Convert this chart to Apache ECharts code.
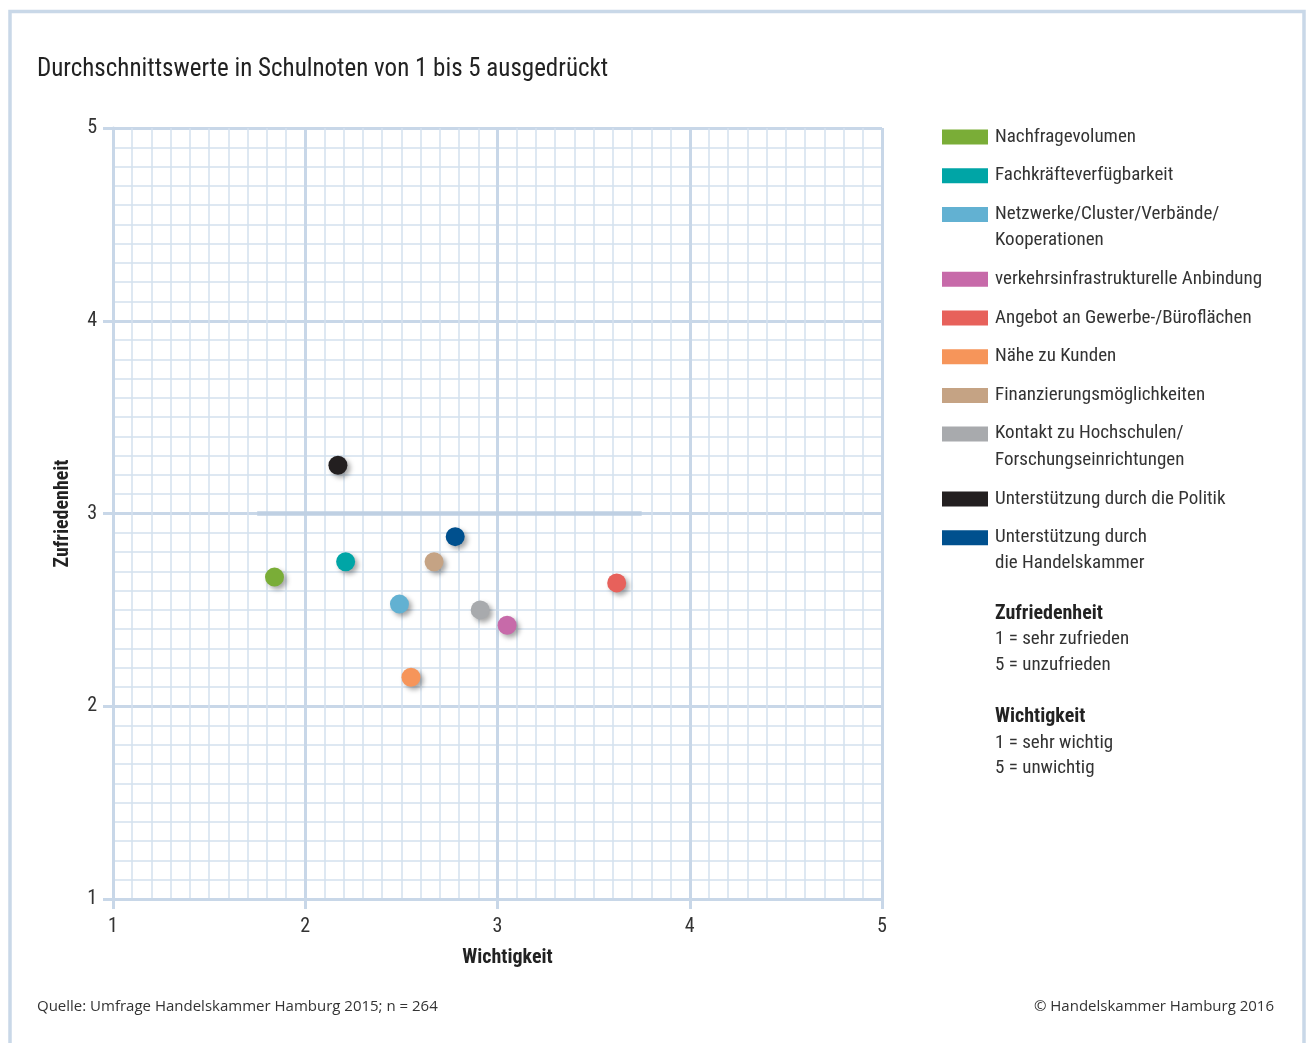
<!DOCTYPE html>
<html>
<head>
<meta charset="utf-8">
<script src="https://cdn.jsdelivr.net/npm/echarts@6/dist/echarts.min.js"></script>
<style>
html, body { margin: 0; padding: 0; background: #fff; }
#chart { width: 1306px; height: 1043px; }
</style>
</head>
<body>
<div id="chart"></div>
<script>
// Kategorien (Zeilenumbruch wie in der Legende)
var categories = [
    'Nachfragevolumen',
    'Fachkräfteverfügbarkeit',
    'Netzwerke/Cluster/Verbände/\nKooperationen',
    'verkehrsinfrastrukturelle Anbindung',
    'Angebot an Gewerbe-/Büroflächen',
    'Nähe zu Kunden',
    'Finanzierungsmöglichkeiten',
    'Kontakt zu Hochschulen/\nForschungseinrichtungen',
    'Unterstützung durch die Politik',
    'Unterstützung durch\ndie Handelskammer'
];
var colors = ['#7aad37', '#00a5a6', '#62b1d2', '#c76aa9', '#e7615b',
              '#f6955a', '#c5a384', '#a8aaad', '#231f20', '#00508e'];
// x = Wichtigkeit, y = Zufriedenheit
var wichtigkeit   = [1.84, 2.21, 2.49, 3.05, 3.62, 2.55, 2.67, 2.91, 2.17, 2.78];
var zufriedenheit = [2.67, 2.75, 2.53, 2.42, 2.64, 2.15, 2.75, 2.50, 3.25, 2.88];
var axisMin = 1, axisMax = 5;
// Hervorgehobene Linie bei Zufriedenheit 3
var refLineX = [1.75, 3.75];
var refLineY = 3;

var font = "'Liberation Sans Narrow', 'Roboto Condensed', 'Liberation Sans', sans-serif";
var gridMajor = '#c8d7e8';
var gridMinor = '#d4e1ee';
var lh = 26.2;

var myChart = echarts.init(document.getElementById('chart'));

// eine Legende je Eintrag, damit mehrzeilige Texte am Kästchen oben ausgerichtet sind
var legends = [];
var center = 137;
categories.forEach(function (name, i) {
    var lines = name.split('\n').length;
    legends.push({
        left: 942,
        top: lines > 1 ? center - 26.5 : center - 13,
        padding: 0,
        itemWidth: 46,
        itemHeight: 15,
        icon: 'rect',
        selectedMode: false,
        data: [name],
        formatter: function (n) {
            var p = n.split('\n');
            if (p.length === 1) return p[0];
            return '{a|' + p[0] + '}\n{b|' + p[1] + '}';
        },
        textStyle: {
            fontFamily: font,
            fontSize: 19,
            color: '#333',
            lineHeight: 26,
            padding: [0, 0, 0, 2],
            rich: {
                a: { fontFamily: font, fontSize: 19, color: '#333', lineHeight: 52 },
                b: { fontFamily: font, fontSize: 19, color: '#333', lineHeight: 1 }
            }
        }
    });
    center += lines * lh + 12.5;
});

var series = categories.map(function (name, i) {
    return {
        name: name,
        type: 'scatter',
        symbolSize: 19,
        z: 5,
        itemStyle: {
            color: colors[i],
            opacity: 1,
            shadowBlur: 5,
            shadowOffsetX: 3,
            shadowOffsetY: 3,
            shadowColor: 'rgba(0,0,0,0.35)'
        },
        data: [[wichtigkeit[i], zufriedenheit[i]]]
    };
});
series.unshift({
    type: 'line',
    silent: true,
    symbol: 'none',
    z: 3,
    lineStyle: { color: '#bfd0e3', width: 4.5, opacity: 1 },
    data: refLineX.map(function (x) { return [x, refLineY]; })
});

function valueAxis(isX) {
    return {
        type: 'value',
        min: axisMin,
        max: axisMax,
        interval: 1,
        name: isX ? 'Wichtigkeit' : 'Zufriedenheit',
        nameLocation: 'middle',
        nameGap: isX ? 49 : 40,
        nameTextStyle: {
            fontFamily: font,
            fontSize: 20,
            fontWeight: 'bold',
            color: '#222',
            padding: isX ? [0, 0, 0, 20] : 0
        },
        axisLine: { show: true, lineStyle: { color: gridMajor, width: 3 } },
        axisTick: { show: true, length: 10, lineStyle: { color: gridMajor, width: 3 } },
        axisLabel: {
            margin: isX ? 18 : 16,
            fontFamily: font,
            fontSize: 20,
            color: '#333'
        },
        splitLine: { show: true, lineStyle: { color: gridMajor, width: 3 } },
        minorTick: { show: false, splitNumber: 10 },
        minorSplitLine: { show: true, lineStyle: { color: gridMinor, width: 1.5 } }
    };
}

var option = {
    backgroundColor: '#fff',
    animation: false,
    title: {
        text: 'Durchschnittswerte in Schulnoten von 1 bis 5 ausgedrückt',
        left: 37,
        top: 57,
        padding: 0,
        textStyle: { fontFamily: font, fontSize: 25, fontWeight: 'normal', color: '#222' }
    },
    grid: { left: 113, right: 424, top: 128, bottom: 144 },
    xAxis: valueAxis(true),
    yAxis: valueAxis(false),
    legend: legends,
    graphic: [
        {
            type: 'rect',
            silent: true,
            shape: { x: 10, y: 11.5, width: 1294, height: 1200 },
            style: { fill: null, stroke: '#c9d8e8', lineWidth: 3.5 }
        },
        {
            type: 'text',
            left: 995,
            top: 601,
            style: {
                text: '{h|Zufriedenheit}\n1 = sehr zufrieden\n5 = unzufrieden\n\n{h|Wichtigkeit}\n1 = sehr wichtig\n5 = unwichtig',
                fontFamily: font,
                fontSize: 19,
                lineHeight: 25.8,
                fill: '#333',
                rich: { h: { fontFamily: font, fontSize: 20, fontWeight: 'bold', fill: '#222', lineHeight: 25.8 } }
            }
        },
        {
            type: 'text',
            left: 37,
            top: 999,
            style: {
                text: 'Quelle: Umfrage Handelskammer Hamburg 2015; n = 264',
                fontFamily: "'Open Sans', 'Noto Sans', sans-serif",
                fontSize: 15,
                fill: '#333'
            }
        },
        {
            type: 'text',
            right: 32,
            top: 999,
            style: {
                text: '© Handelskammer Hamburg 2016',
                fontFamily: "'Open Sans', 'Noto Sans', sans-serif",
                fontSize: 15,
                fill: '#333'
            }
        }
    ],
    series: series
};
myChart.setOption(option);
</script>
</body>
</html>
